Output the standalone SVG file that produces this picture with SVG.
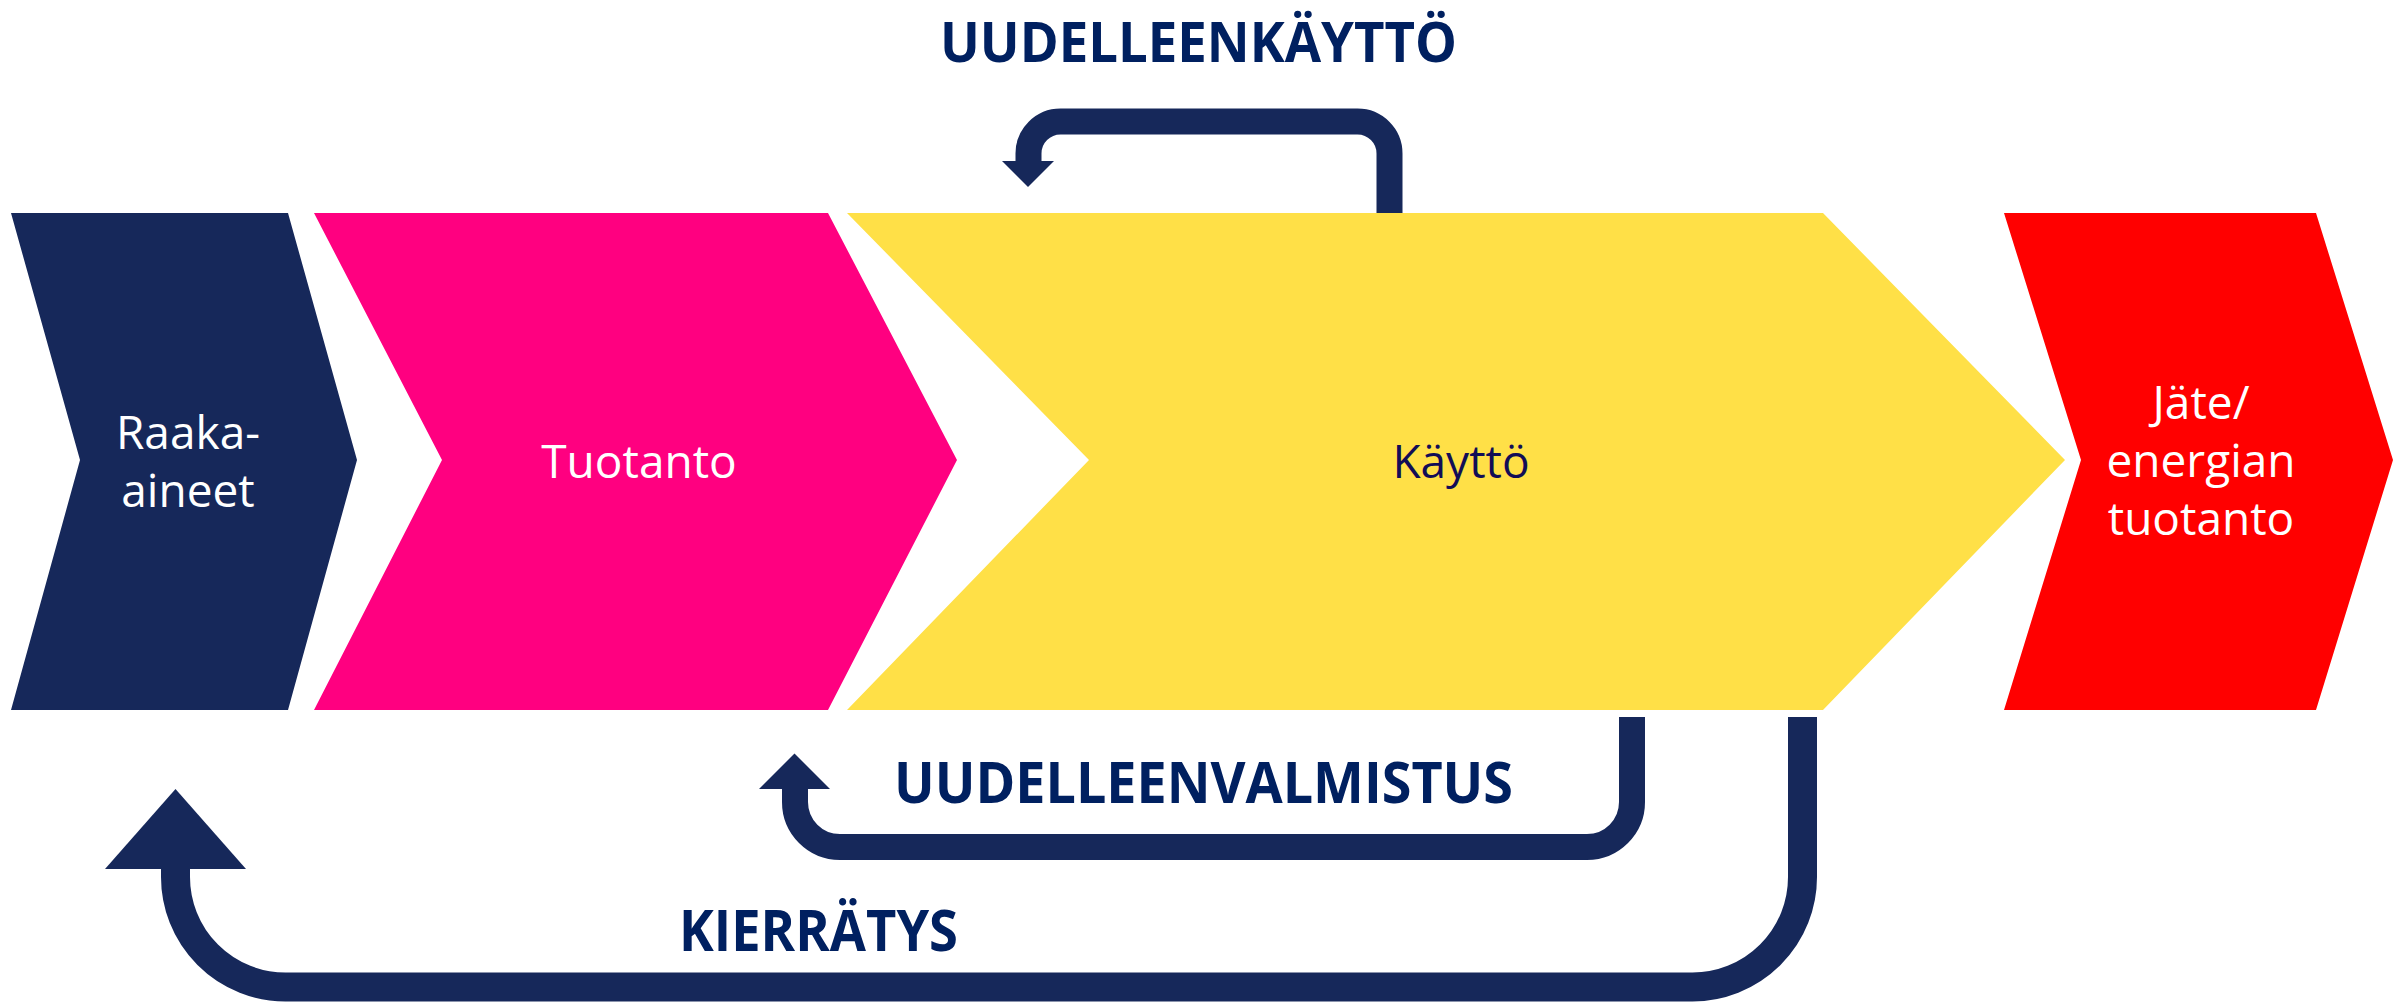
<svg xmlns="http://www.w3.org/2000/svg" width="2405" height="1004" viewBox="0 0 2405 1004">
<style>
.lbl{font-family:"Open Sans","Liberation Sans",sans-serif;font-size:46px;text-anchor:middle}
.big{font-family:"Open Sans","Liberation Sans",sans-serif;font-weight:bold;fill:#002060}
.flow{fill:none;stroke:#16285A}
.head{fill:#16285A}
</style>
<rect width="2405" height="1004" fill="#ffffff"/>
<g id="raaka-aineet">
<polygon points="11,213 288,213 357,460 288,710 11,710 80,460" fill="#16285A"/>
<text class="lbl" fill="#ffffff"><tspan x="188" y="449">Raaka-</tspan><tspan x="188" y="507">aineet</tspan></text>
</g>
<g id="tuotanto">
<polygon points="314,213 828,213 957,460 828,710 314,710 442,460" fill="#FF0080"/>
<text class="lbl" fill="#ffffff" x="639" y="478">Tuotanto</text>
</g>
<g id="kaytto">
<polygon points="847,213 1823,213 2065,460 1823,710 847,710 1089,460" fill="#FFE047"/>
<text class="lbl" fill="#120D56" x="1461" y="478">Käyttö</text>
</g>
<g id="jate">
<polygon points="2004,213 2316,213 2393,460 2316,710 2004,710 2081,460" fill="#FF0000"/>
<text class="lbl" fill="#ffffff"><tspan x="2201" y="419">Jäte/</tspan><tspan x="2201" y="477">energian</tspan><tspan x="2201" y="535">tuotanto</tspan></text>
</g>
<g id="connectors">
<g id="uudelleenkaytto">
<path class="flow" stroke-width="26" d="M1389.5 213 V153.5 A32 32 0 0 0 1357.5 121.5 H1060.5 A32 32 0 0 0 1028.5 153.5 V162"/>
<polygon class="head" points="1002,161 1054,161 1028,187"/>
<text class="big" x="940" y="62" font-size="56" textLength="517" lengthAdjust="spacingAndGlyphs">UUDELLEENKÄYTTÖ</text>
</g>
<g id="uudelleenvalmistus">
<path class="flow" stroke-width="26" d="M1632 717 V802 A45 45 0 0 1 1587 847 H840 A45 45 0 0 1 795 802 V788"/>
<polygon class="head" points="759,789 830,789 794.5,753.5"/>
<text class="big" x="894" y="803" font-size="57" textLength="619" lengthAdjust="spacingAndGlyphs">UUDELLEENVALMISTUS</text>
</g>
<g id="kierratys">
<path class="flow" stroke-width="29" d="M1802.5 717 V877 A110 110 0 0 1 1692.5 987 H285.5 A110 110 0 0 1 175.5 877 V868"/>
<polygon class="head" points="105,869 246,869 175.5,789"/>
<text class="big" x="679" y="951" font-size="57" textLength="279" lengthAdjust="spacingAndGlyphs">KIERRÄTYS</text>
</g>
</g>
</svg>
